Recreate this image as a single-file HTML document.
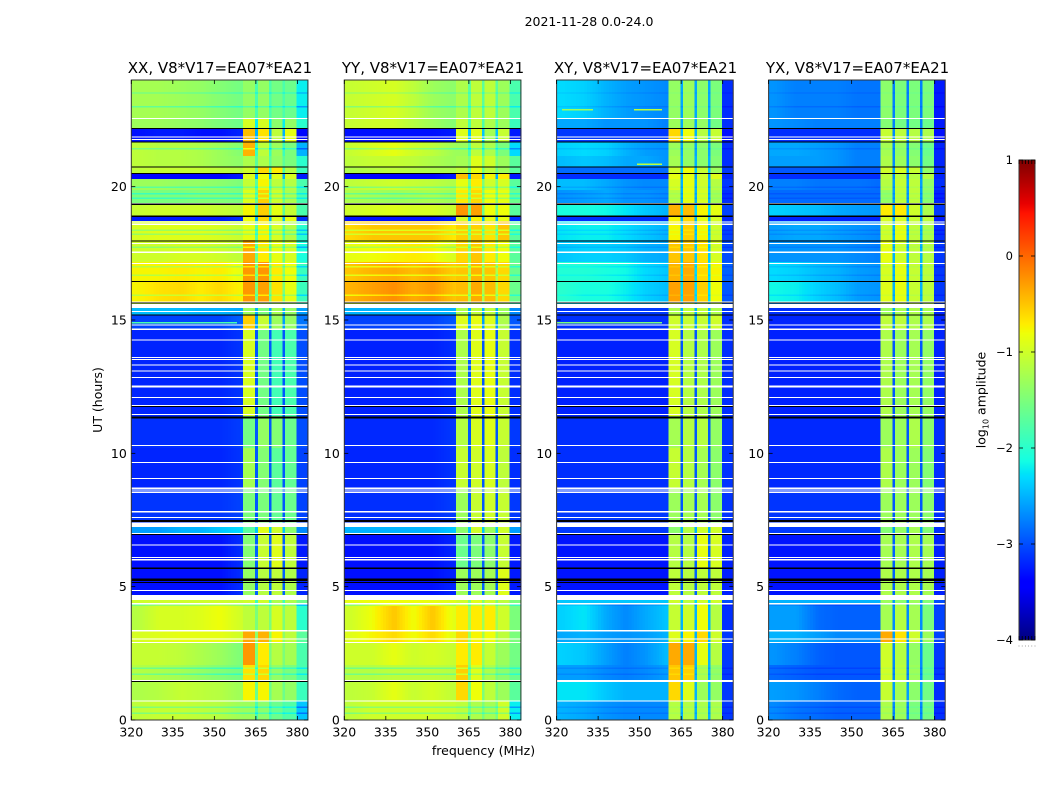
<!DOCTYPE html>
<html lang="en">
<head>
<meta charset="utf-8">
<title>2021-11-28 0.0-24.0</title>
<style>
html,body{margin:0;padding:0;background:#fff;}
svg{display:block;font-family:"DejaVu Sans","Liberation Sans",sans-serif;fill:#000;}
</style>
</head>
<body>
<svg id="figure" xmlns="http://www.w3.org/2000/svg" width="1050" height="800" viewBox="0 0 1050 800">
  <rect x="0" y="0" width="1050" height="800" fill="#fff"/>
  <text x="589" y="26" font-size="12.5" text-anchor="middle">2021-11-28 0.0-24.0</text>
  <text x="220" y="73" font-size="15" text-anchor="middle">XX, V8*V17=EA07*EA21</text>
  <text x="433" y="73" font-size="15" text-anchor="middle">YY, V8*V17=EA07*EA21</text>
  <text x="645.5" y="73" font-size="15" text-anchor="middle">XY, V8*V17=EA07*EA21</text>
  <text x="857.5" y="73" font-size="15" text-anchor="middle">YX, V8*V17=EA07*EA21</text>
  <text transform="translate(102,400) rotate(-90)" font-size="12.5" text-anchor="middle">UT (hours)</text>
  <text x="483.5" y="755" font-size="12.5" text-anchor="middle">frequency (MHz)</text>
  <text transform="translate(985.5,400) rotate(-90)" font-size="12.5" text-anchor="middle">log<tspan font-size="8" dy="3">10</tspan><tspan dy="-3"> amplitude</tspan></text>
  <g id="panels"></g>
  <g id="colorbar"></g>
</svg>
<script>
// ---- data ----
const panelNames = ['xx', 'yy', 'xy', 'yx'];
const xTickLabels = [320, 335, 350, 365, 380];
const yTickLabels = [0, 5, 10, 15, 20];
const colorbarTickLabels = [-4, -3, -2, -1, 0, 1];
const colorbarXTicks = [0, 0.2, 0.4, 0.6, 0.8, 1];

// UT (hours) boundaries of the observing blocks, top to bottom
const utBandEdges = [24, 22.55, 22.18, 21.68, 21.15, 20.73, 20.5, 20.28, 19.88, 19.35, 18.88, 18.71, 18, 17.17, 16.46, 15.7, 15.45, 15.18, 14.65, 11.4, 10.2, 8.7, 7.5, 7.23, 6.96, 5.69, 4.69, 4.36, 3.38, 2.91, 2.06, 1.47, 0.71, 0];

// MHz sample points for the low part of the band, then the four sub-band windows
const lowKnotsMHz = [322, 330, 338, 345, 352, 360];
const lowBandEndMHz = 360.4;
const subBandsMHz = [[360.4, 364.7], [365.6, 369.8], [370.5, 374.7], [375.4, 379.7]];
const gapsMHz = [[364.7, 365.6], [369.8, 370.5], [374.7, 375.4]];
const tailMHz = [379.7, 383.8];

// log10 amplitude per UT block: six low knots, sub-bands A B C D, gap, tail
const logAmpXX = [
[-1.25,-1.25,-1.3,-1.35,-1.45,-1.55,-1.35,-1.35,-1.55,-1.6,-1.8,-2.2],
[-1.3,-1.3,-1.35,-1.4,-1.5,-1.6,-0.95,-0.95,-1.4,-1.35,-2.2,-2],
[-3.3,-3.25,-3.25,-3.3,-3.3,-3.2,-0.45,-0.65,-1.1,-0.85,-2.5,-3.35],
[-1.1,-1.15,-1.15,-1.2,-1.3,-1.45,-0.4,-1.1,-1.3,-1.5,-1.9,-2.5],
[-1.1,-1.15,-1.15,-1.2,-1.3,-1.4,-1.2,-1.2,-1.35,-1.5,-1.7,-2],
[-1.1,-1.05,-1.05,-1.05,-1.1,-1.15,-1,-0.6,-0.7,-1.15,-1.8,-1.9],
[-3.35,-3.35,-3.35,-3.35,-3.35,-3.25,-0.9,-0.8,-0.9,-0.95,-2.5,-3.25],
[-1.3,-1.3,-1.35,-1.35,-1.4,-1.5,-1.05,-0.75,-1.1,-1.15,-1.7,-1.8],
[-1.5,-1.5,-1.5,-1.45,-1.45,-1.5,-0.9,-0.55,-1,-1.2,-1.6,-1.8],
[-1.05,-1,-1,-1,-1.05,-1.1,-0.75,-0.55,-0.85,-1.05,-1.7,-1.8],
[-3.25,-3.25,-3.25,-3.25,-3.25,-3.15,-0.8,-0.6,-0.9,-0.85,-2.5,-3.15],
[-0.95,-0.9,-0.9,-0.9,-0.95,-1.05,-0.85,-0.75,-0.95,-1.15,-1.7,-2],
[-1,-1,-0.95,-0.95,-1,-1.1,-0.35,-0.7,-0.85,-0.95,-1.6,-2.1],
[-0.75,-0.75,-0.7,-0.75,-0.7,-0.85,-0.25,-0.25,-0.7,-0.8,-1.4,-1.9],
[-0.75,-0.65,-0.6,-0.7,-0.6,-0.75,-0.25,-0.3,-0.65,-0.85,-1.5,-1.9],
[-1.1,-1.1,-1.1,-1.1,-1.15,-1.2,-1.1,-1.1,-1.2,-1.3,-1.8,-2],
[-2.45,-2.45,-2.45,-2.5,-2.5,-2.55,-1.3,-1.5,-1.25,-1.35,-2.5,-2.6],
[-3.05,-3.05,-3.05,-3.05,-3.05,-2.9,-0.55,-1.05,-1.3,-1.35,-2.6,-2.8],
[-3.2,-3.2,-3.2,-3.2,-3.2,-3.12,-0.95,-1.55,-1.85,-1.8,-2.95,-3],
[-3.15,-3.15,-3.15,-3.15,-3.15,-3.08,-1.55,-1.35,-1.45,-1.6,-2.95,-3],
[-3.2,-3.2,-3.2,-3.2,-3.2,-3.12,-1.25,-1.45,-1.7,-1.65,-2.95,-3.05],
[-3.12,-3.12,-3.12,-3.12,-3.12,-3.05,-1.5,-1.5,-1.65,-1.6,-2.95,-3.05],
[-3.12,-3.12,-3.12,-3.12,-3.12,-3.05,-1.5,-1.5,-1.65,-1.6,-2.95,-3.05],
[-2.6,-2.6,-2.5,-2.5,-2.4,-2.3,-1.7,-0.9,-1,-1.4,-2.4,-2.7],
[-3.3,-3.3,-3.3,-3.3,-3.3,-3.15,-1.45,-1.05,-0.9,-1.1,-2.9,-3.25],
[-3.3,-3.3,-3.3,-3.3,-3.3,-3.15,-1.35,-1.15,-1.1,-1.2,-2.9,-3.2],
[-1,-1,-1,-1,-1,-1.05,-1,-1,-1.2,-1.2,-1.9,-1.6],
[-1.15,-0.95,-0.95,-0.9,-0.8,-1,-1.1,-1.1,-0.95,-1.1,-1.5,-2],
[-0.95,-0.9,-0.85,-0.85,-0.85,-1,-0.35,-0.4,-0.75,-1.1,-1.4,-1.7],
[-1.05,-1.05,-1.1,-1.2,-1.3,-1.5,-0.25,-0.7,-1.15,-1.25,-1.5,-1.8],
[-1.15,-1.2,-1.25,-1.35,-1.45,-1.55,-0.65,-0.6,-1.35,-1.5,-1.6,-1.8],
[-1.2,-1.15,-1.05,-1.1,-1.15,-1.3,-0.75,-0.75,-1.25,-1.35,-1.6,-1.9],
[-1.1,-1.05,-1.05,-1.1,-1.15,-1.3,-1.3,-1.4,-1.6,-1.75,-1.8,-2.4]
];
const logAmpYY = [
[-1.05,-1,-0.95,-1.1,-1.3,-1.4,-1.2,-1.1,-1.1,-1.3,-1.7,-1.8],
[-1.05,-1,-1,-1.15,-1.3,-1.45,-1.1,-1.1,-1.2,-1.3,-1.8,-1.9],
[-3.3,-3.3,-3.3,-3.3,-3.3,-3.25,-0.9,-0.9,-1.25,-1.05,-2.4,-3.25],
[-1.05,-0.95,-0.85,-1,-1.1,-1.3,-1.3,-1.1,-1.2,-1.5,-1.8,-2.3],
[-1.1,-1.05,-1.05,-1.1,-1.2,-1.3,-1.25,-0.9,-1,-1.3,-1.5,-1.7],
[-1.2,-1.15,-1.1,-1.15,-1.2,-1.2,-1.1,-0.85,-1.1,-1.3,-1.6,-1.7],
[-3.35,-3.35,-3.35,-3.35,-3.35,-3.25,-0.45,-0.6,-0.75,-0.7,-2.5,-3.25],
[-1.1,-1.05,-1,-1.05,-1.1,-1.2,-0.85,-0.7,-1,-0.95,-1.5,-1.7],
[-1.2,-1.25,-1.3,-1.25,-1.2,-1.3,-0.7,-0.6,-0.8,-0.85,-1.4,-1.6],
[-1,-0.95,-0.9,-0.95,-0.95,-1.05,-0.25,-0.3,-0.8,-0.8,-1.6,-1.7],
[-3.3,-3.3,-3.3,-3.3,-3.3,-3.2,-0.95,-0.75,-0.85,-0.85,-2.5,-3.15],
[-0.6,-0.5,-0.5,-0.5,-0.5,-0.7,-0.55,-0.55,-0.65,-0.5,-1.4,-1.7],
[-0.85,-0.8,-0.75,-0.7,-0.75,-0.95,-0.6,-0.5,-0.7,-0.8,-1.4,-1.7],
[-0.5,-0.4,-0.35,-0.45,-0.35,-0.55,-0.5,-0.4,-0.5,-0.6,-1.2,-1.6],
[-0.4,-0.3,-0.2,-0.35,-0.25,-0.5,-0.45,-0.35,-0.45,-0.6,-1.2,-1.6],
[-1,-1,-1,-1,-1,-1.1,-1,-1,-1.1,-1.2,-1.7,-1.9],
[-2.5,-2.5,-2.5,-2.5,-2.5,-2.5,-1.2,-1.1,-1.1,-1.3,-2.5,-2.7],
[-3.05,-3.05,-3.05,-3.05,-3.05,-2.95,-0.9,-0.85,-0.9,-1.2,-2.6,-2.95],
[-3.22,-3.22,-3.22,-3.22,-3.22,-3.15,-1.2,-0.9,-0.85,-1.05,-2.95,-3.15],
[-3.18,-3.18,-3.18,-3.18,-3.18,-3.1,-1.15,-0.95,-0.9,-1.05,-2.95,-3.1],
[-3.2,-3.2,-3.2,-3.2,-3.2,-3.12,-1.05,-1,-0.95,-1.1,-2.95,-3.15],
[-3.15,-3.15,-3.15,-3.15,-3.15,-3.08,-1.3,-1.05,-1,-1.05,-2.95,-3.1],
[-3.15,-3.15,-3.15,-3.15,-3.15,-3.08,-1.3,-1.05,-1,-1.05,-2.95,-3.1],
[-2.5,-2.5,-2.5,-2.5,-2.5,-2.4,-1.4,-1,-1.3,-1,-2.4,-2.6],
[-3.3,-3.3,-3.3,-3.3,-3.3,-3.2,-1.6,-1.5,-1.4,-1.05,-2.9,-3.25],
[-3.3,-3.3,-3.3,-3.3,-3.3,-3.2,-1.3,-1.3,-1.25,-0.9,-2.9,-3.25],
[-0.85,-0.8,-0.8,-0.8,-0.85,-0.9,-1,-0.9,-1,-1.1,-1.5,-1.5],
[-1,-0.8,-0.5,-0.8,-0.5,-0.9,-0.7,-0.7,-0.7,-1,-1.3,-1.5],
[-0.9,-0.75,-0.6,-0.8,-0.6,-0.9,-0.6,-0.75,-0.8,-1.1,-1.3,-1.5],
[-1,-1,-0.85,-1,-0.95,-1.05,-0.7,-0.7,-1.05,-1.3,-1.4,-1.55],
[-1.15,-1.15,-1.1,-1.1,-1.1,-1.15,-0.55,-0.9,-1.2,-1.4,-1.5,-1.6],
[-1.1,-1.05,-0.85,-1.05,-0.95,-1.1,-0.6,-0.8,-1.1,-1.3,-1.5,-1.7],
[-1.1,-1,-1,-1,-1,-1.05,-1.1,-1.2,-1.25,-1,-1.5,-2.2]
];
const logAmpXY = [
[-2.3,-2.35,-2.5,-2.6,-2.65,-2.7,-1.35,-1.3,-1.4,-1.5,-2.55,-3.15],
[-2.55,-2.55,-2.65,-2.65,-2.65,-2.75,-1.3,-1.3,-1.35,-1.55,-2.55,-3.15],
[-3.1,-3.1,-3.1,-3.1,-3.1,-3.1,-0.6,-0.8,-1.15,-1.05,-2.5,-3.3],
[-2.35,-2.3,-2.35,-2.5,-2.6,-2.65,-1.3,-1.35,-1.4,-1.5,-2.55,-3.15],
[-2.45,-2.4,-2.45,-2.55,-2.55,-2.65,-1.25,-1.35,-1.4,-1.45,-2.5,-3.15],
[-2.85,-2.85,-2.85,-2.85,-2.85,-2.85,-1,-0.8,-1.05,-1.3,-2.4,-3.1],
[-3.15,-3.15,-3.15,-3.15,-3.15,-3.15,-0.85,-0.85,-1,-0.9,-2.6,-3.2],
[-2.45,-2.45,-2.55,-2.65,-2.7,-2.7,-0.95,-0.85,-1,-1.15,-2.5,-3.1],
[-2.65,-2.6,-2.55,-2.65,-2.65,-2.7,-1.15,-0.85,-0.95,-1.25,-2.5,-3.15],
[-2.1,-2.1,-2.15,-2.25,-2.4,-2.5,-0.4,-0.45,-0.75,-0.85,-2.3,-3.05],
[-3.15,-3.15,-3.15,-3.15,-3.15,-3.15,-0.75,-0.6,-0.85,-0.95,-2.5,-3.2],
[-2.25,-2.2,-2.2,-2.3,-2.4,-2.5,-0.75,-0.55,-0.75,-1,-2.4,-3.05],
[-2.4,-2.35,-2.35,-2.4,-2.5,-2.55,-0.5,-0.5,-0.65,-0.95,-2.4,-3],
[-2.05,-2.05,-2.1,-2.15,-2.3,-2.4,-0.4,-0.35,-0.6,-0.75,-2.3,-2.9],
[-2,-2.1,-2.1,-2.2,-2.35,-2.45,-0.3,-0.3,-0.55,-0.8,-2.3,-2.95],
[-2.25,-2.25,-2.25,-2.35,-2.45,-2.45,-0.9,-0.9,-1,-1.1,-2.4,-3],
[-3.1,-3.1,-3.1,-3.1,-3.1,-3.1,-1.2,-1.1,-1.1,-1.2,-2.5,-3.1],
[-3.15,-3.15,-3.15,-3.15,-3.15,-3.15,-1,-1.05,-1.05,-1,-2.6,-3.15],
[-3.22,-3.22,-3.22,-3.22,-3.22,-3.22,-0.95,-1.15,-1.2,-1.3,-2.95,-3.15],
[-3.15,-3.15,-3.15,-3.15,-3.15,-3.15,-1.25,-1.15,-1.15,-1.35,-2.95,-3.12],
[-3.15,-3.15,-3.15,-3.15,-3.15,-3.15,-1.05,-1.15,-1.25,-1.4,-2.95,-3.12],
[-3.1,-3.1,-3.1,-3.1,-3.1,-3.1,-1.3,-1.25,-1.25,-1.4,-2.95,-3.12],
[-3.1,-3.1,-3.1,-3.1,-3.1,-3.1,-1.3,-1.25,-1.25,-1.4,-2.95,-3.12],
[-3.1,-3.1,-3.1,-3.1,-3.1,-3.1,-1.4,-1.15,-1,-1,-2.5,-3.1],
[-3.28,-3.28,-3.28,-3.28,-3.28,-3.28,-1.15,-1.15,-0.85,-0.95,-2.9,-3.22],
[-3.28,-3.28,-3.28,-3.28,-3.28,-3.28,-1.1,-1.15,-1.1,-1.1,-2.9,-3.22],
[-2.4,-2.4,-2.4,-2.4,-2.4,-2.4,-1,-1.1,-1,-1,-2.3,-3],
[-2.35,-2.25,-2.55,-2.7,-2.55,-2.4,-1.05,-1,-0.8,-1.15,-2.5,-3.15],
[-2.55,-2.5,-2.6,-2.65,-2.6,-2.5,-0.9,-0.75,-0.6,-1,-2.5,-3.1],
[-2.35,-2.4,-2.6,-2.75,-2.65,-2.45,-0.35,-0.35,-0.85,-1.15,-2.5,-3.1],
[-2.6,-2.6,-2.7,-2.75,-2.7,-2.6,-0.5,-0.55,-1.2,-1.35,-2.5,-3.1],
[-2.25,-2.25,-2.4,-2.5,-2.5,-2.5,-0.6,-0.9,-1.3,-1.35,-2.5,-3.1],
[-2.5,-2.55,-2.65,-2.7,-2.7,-2.7,-1.15,-1.15,-1.2,-1.2,-2.5,-3.1]
];
const logAmpYX = [
[-2.65,-2.75,-2.75,-2.75,-2.8,-2.8,-1.4,-1.5,-1.5,-1.5,-2.75,-3.25],
[-2.65,-2.7,-2.75,-2.75,-2.75,-2.75,-1.45,-1.55,-1.55,-1.6,-2.75,-3.25],
[-3.15,-3.15,-3.15,-3.15,-3.15,-3.15,-1.05,-1.1,-1.15,-1.2,-2.7,-3.3],
[-2.55,-2.55,-2.6,-2.65,-2.75,-2.75,-1.25,-1.35,-1.45,-1.6,-2.7,-3.2],
[-2.6,-2.6,-2.6,-2.65,-2.75,-2.75,-1.2,-1.3,-1.4,-1.55,-2.7,-3.2],
[-2.95,-2.95,-2.95,-2.95,-2.95,-2.95,-1,-0.95,-1.05,-1.35,-2.6,-3.15],
[-3.15,-3.15,-3.15,-3.15,-3.15,-3.15,-1.1,-1.1,-1.15,-1.15,-2.7,-3.2],
[-2.75,-2.75,-2.8,-2.8,-2.8,-2.85,-1.15,-1.05,-1.1,-1.35,-2.6,-3.15],
[-2.85,-2.85,-2.85,-2.85,-2.85,-2.85,-1.35,-1.1,-1.1,-1.4,-2.6,-3.2],
[-2.35,-2.4,-2.45,-2.55,-2.6,-2.65,-0.7,-0.7,-1,-1.2,-2.5,-3.1],
[-3.2,-3.2,-3.2,-3.2,-3.2,-3.2,-0.95,-0.95,-1.05,-1.1,-2.6,-3.25],
[-2.6,-2.55,-2.55,-2.6,-2.65,-2.7,-1,-0.85,-1.1,-1.2,-2.5,-3.15],
[-2.65,-2.65,-2.65,-2.65,-2.7,-2.75,-0.85,-1,-1.1,-1.15,-2.5,-3.1],
[-2.3,-2.35,-2.45,-2.5,-2.6,-2.65,-0.95,-0.85,-1.05,-1.1,-2.5,-3.1],
[-2.15,-2.2,-2.35,-2.45,-2.6,-2.65,-0.9,-0.85,-1.05,-1.1,-2.5,-3.1],
[-2.65,-2.65,-2.65,-2.65,-2.75,-2.75,-1.1,-1.1,-1.1,-1.2,-2.6,-3.1],
[-3.15,-3.15,-3.15,-3.15,-3.15,-3.15,-1.3,-1.25,-1.2,-1.25,-2.6,-3.2],
[-3.2,-3.2,-3.2,-3.2,-3.2,-3.2,-1.1,-1.1,-1.2,-1.2,-2.7,-3.2],
[-3.22,-3.22,-3.22,-3.22,-3.22,-3.22,-1.2,-1.3,-1.25,-1.35,-2.95,-3.2],
[-3.18,-3.18,-3.18,-3.18,-3.18,-3.18,-1.3,-1.3,-1.2,-1.4,-2.95,-3.15],
[-3.18,-3.18,-3.18,-3.18,-3.18,-3.18,-1.2,-1.3,-1.3,-1.45,-2.95,-3.15],
[-3.12,-3.12,-3.12,-3.12,-3.12,-3.12,-1.3,-1.3,-1.3,-1.4,-2.95,-3.15],
[-3.12,-3.12,-3.12,-3.12,-3.12,-3.12,-1.3,-1.3,-1.3,-1.4,-2.95,-3.15],
[-3.1,-3.1,-3.1,-3.1,-3.1,-3.1,-1.45,-1.35,-1.25,-1.45,-2.6,-3.15],
[-3.28,-3.28,-3.28,-3.28,-3.28,-3.28,-1.25,-1.25,-1.2,-1.25,-2.9,-3.22],
[-3.28,-3.28,-3.28,-3.28,-3.28,-3.28,-1.2,-1.2,-1.2,-1.25,-2.9,-3.22],
[-2.5,-2.5,-2.5,-2.5,-2.5,-2.5,-1.3,-1.4,-1.3,-1.45,-2.6,-3],
[-2.6,-2.6,-2.85,-2.9,-2.9,-2.9,-1.25,-1.15,-1.25,-1.5,-2.7,-3.05],
[-2.5,-2.5,-2.6,-2.7,-2.7,-2.7,-0.35,-0.65,-1,-1.3,-2.6,-3.05],
[-2.65,-2.75,-2.9,-2.95,-2.95,-2.95,-1,-1.15,-1.35,-1.6,-2.7,-3.1],
[-2.85,-2.9,-2.95,-2.95,-2.95,-2.95,-1,-1.1,-1.3,-1.6,-2.7,-3.1],
[-2.6,-2.65,-2.75,-2.85,-2.9,-2.9,-1.05,-1.25,-1.4,-1.55,-2.6,-3.15],
[-2.7,-2.8,-2.85,-2.9,-2.9,-2.9,-1.2,-1.3,-1.5,-1.55,-2.7,-3.15]
];

// flagged (empty) integrations, UT start/end, shown white
const flaggedUT = [[22.53,22.58],[21.85,21.89],[21.75,21.79],[19.34,19.39],[18.65,18.69],[18.57,18.61],[17.85,17.89],[17.52,17.56],[17.1,17.14],[15.66,15.7],[15.45,15.6],[15.3,15.34],[14.79,14.83],[14.62,14.68],[14.23,14.27],[13.58,13.62],[13.5,13.54],[13.29,13.33],[13.06,13.1],[12.83,12.87],[12.47,12.54],[12.08,12.12],[11.78,11.82],[11.44,11.48],[10.28,10.32],[9.64,9.68],[9.04,9.08],[8.67,8.71],[8.6,8.64],[8.52,8.56],[7.79,7.83],[7.57,7.61],[7.23,7.41],[6.97,7.01],[6.54,6.58],[6.07,6.11],[5.99,6.03],[4.83,4.87],[4.5,4.69],[4.34,4.38],[3.31,3.38],[3.01,3.05],[2.89,2.93],[1.45,1.5],[0.69,0.73]];
// zero-amplitude integrations, UT start/end, shown black
const blackUT = [[22.16,22.2],[21.66,21.7],[20.71,20.75],[20.48,20.52],[19.32,19.36],[18.87,18.91],[17.95,17.99],[16.43,16.47],[15.61,15.65],[15.16,15.2],[11.73,11.77],[11.31,11.39],[7.43,7.5],[6.94,6.98],[5.67,5.71],[5.27,5.31],[5.22,5.26],[5.14,5.18]];
// one integration just under the 1.5 h gap: zero in XX and YY, empty in XY and YX
const splitLineUT = [1.42, 1.46];
const splitLineBlackByPanel = [true, true, false, false];
// UT of thin low-amplitude integrations and how far each panel drops there
const dipUT = [23.52, 23, 21.43, 19.98, 19.75, 19.57, 18.37, 18.22, 17.74, 17, 16.69, 15.94, 4.31, 1.95, 1.72, 0.49, 0.26];
const dipDepthByPanel = [0.4, 0.4, 0.1, 0.1];
// interference streaks: panel index, UT, start MHz, end MHz, log10 amplitude
const rfiPanel = [0, 2, 2, 2, 2];
const rfiUT = [14.91, 14.91, 22.9, 22.9, 20.85];
const rfiStartMHz = [320, 320, 322, 348, 349];
const rfiEndMHz = [358, 358, 333, 358, 358];
const rfiLogAmp = [-1.8, -1.5, -1.3, -1.1, -1.1];

const matrices = [logAmpXX, logAmpYY, logAmpXY, logAmpYX];

// ---- layout and scales ----
const panelLeft = [131.3, 344.3, 556.6, 768.6];
const panelWidth = 176.6, plotTop = 80, plotBottom = 720;
const freqMin = 320, freqMax = 383.8, utMin = 0, utMax = 24;
const cbLeft = 1019, cbWidth = 16, cbTop = 160, cbBottom = 640, cbMin = -4, cbMax = 1;

function xScale(p, f) { return panelLeft[p] + (f - freqMin) / (freqMax - freqMin) * panelWidth; }
function yScale(t) { return plotBottom - (t - utMin) / (utMax - utMin) * (plotBottom - plotTop); }
function cbScale(v) { return cbBottom - (v - cbMin) / (cbMax - cbMin) * (cbBottom - cbTop); }

function ramp(points, t) {
  for (let i = 1; i < points.length; i++) {
    if (t <= points[i][0]) {
      const a = points[i - 1], b = points[i];
      return a[1] + (b[1] - a[1]) * (t - a[0]) / (b[0] - a[0]);
    }
  }
  return points[points.length - 1][1];
}
const jetR = [[0,0],[0.35,0],[0.66,1],[0.89,1],[1,0.5]];
const jetG = [[0,0],[0.125,0],[0.375,1],[0.64,1],[0.91,0],[1,0]];
const jetB = [[0,0.5],[0.11,1],[0.34,1],[0.65,0],[1,0]];
function jet(v) {
  const t = Math.max(0, Math.min(1, (v - cbMin) / (cbMax - cbMin)));
  return 'rgb(' + Math.round(255 * ramp(jetR, t)) + ',' + Math.round(255 * ramp(jetG, t)) + ',' + Math.round(255 * ramp(jetB, t)) + ')';
}
function lowValue(row, f) {
  if (f <= lowKnotsMHz[0]) return row[0];
  for (let i = 1; i < lowKnotsMHz.length; i++) {
    if (f <= lowKnotsMHz[i]) {
      const a = lowKnotsMHz[i - 1], b = lowKnotsMHz[i];
      return row[i - 1] + (row[i] - row[i - 1]) * (f - a) / (b - a);
    }
  }
  return row[lowKnotsMHz.length - 1];
}

const NS = 'http://www.w3.org/2000/svg';
function shape(parent, tag, attrs) {
  const el = document.createElementNS(NS, tag);
  for (const k in attrs) el.setAttribute(k, attrs[k]);
  parent.appendChild(el);
  return el;
}
function cell(g, p, f0, f1, t0, t1, v) {
  const x0 = xScale(p, f0), x1 = xScale(p, f1), y0 = yScale(t0), y1 = yScale(t1);
  const el = shape(g, 'rect', { x: x0.toFixed(2), y: y0.toFixed(2), width: (x1 - x0 + 0.4).toFixed(2), height: (y1 - y0 + 0.4).toFixed(2), fill: jet(v) });
  
  
}
function drawRow(g, p, row, tHigh, tLow, shift) {
  for (let f = freqMin; f < lowBandEndMHz; f += 1) {
    const f1 = Math.min(f + 1, lowBandEndMHz);
    cell(g, p, f, f1, tHigh, tLow, lowValue(row, (f + f1) / 2) + shift);
  }
  subBandsMHz.forEach(function (b, i) { cell(g, p, b[0], b[1], tHigh, tLow, row[6 + i] + shift); });
  gapsMHz.forEach(function (b) { cell(g, p, b[0], b[1], tHigh, tLow, row[10] + shift); });
  cell(g, p, tailMHz[0], tailMHz[1], tHigh, tLow, row[11] + shift);
}
function bandIndex(t) {
  for (let i = 0; i < utBandEdges.length - 1; i++) {
    if (t <= utBandEdges[i] && t >= utBandEdges[i + 1]) return i;
  }
  return 0;
}
function flagLine(g, p, pair, color, name) {
  const el = shape(g, 'rect', { x: panelLeft[p].toFixed(2), y: yScale(pair[1]).toFixed(2), width: panelWidth, height: (yScale(pair[0]) - yScale(pair[1])).toFixed(2), fill: color, 'shape-rendering': 'crispEdges' });
  
  
}

// ---- draw the panels ----
const panelsRoot = document.getElementById('panels');
panelNames.forEach(function (name, p) {
  const panel = shape(panelsRoot, 'g', {});
  
  

  const heat = shape(panel, 'g', { 'shape-rendering': 'crispEdges' });
  
  
  matrices[p].forEach(function (row, r) {
    drawRow(heat, p, row, utBandEdges[r], utBandEdges[r + 1], 0);
  });
  dipUT.forEach(function (t) {
    drawRow(heat, p, matrices[p][bandIndex(t)], t + 0.02, t - 0.02, -dipDepthByPanel[p]);
  });
  rfiPanel.forEach(function (owner, i) {
    if (owner === p) cell(heat, p, rfiStartMHz[i], rfiEndMHz[i], rfiUT[i] + 0.02, rfiUT[i] - 0.02, rfiLogAmp[i]);
  });
  flaggedUT.forEach(function (pair) { flagLine(panel, p, pair, '#fff', 'flagged-integration'); });
  blackUT.forEach(function (pair) { flagLine(panel, p, pair, '#000', 'zero-integration'); });
  flagLine(panel, p, splitLineUT, splitLineBlackByPanel[p] ? '#000' : '#fff', 'split-integration');

  const frame = shape(panel, 'rect', { x: panelLeft[p], y: plotTop, width: panelWidth, height: plotBottom - plotTop, fill: 'none', stroke: '#333', 'stroke-width': 1 });
  
  

  xTickLabels.forEach(function (v) {
    const x = xScale(p, v);
    const bottom = shape(panel, 'line', { x1: x, x2: x, y1: plotBottom, y2: plotBottom - 4, stroke: '#000', 'stroke-width': 0.8 });
    
    
    const top = shape(panel, 'line', { x1: x, x2: x, y1: plotTop, y2: plotTop + 4, stroke: '#000', 'stroke-width': 0.8 });
    
    
    const label = shape(panel, 'text', { x: x, y: 736.5, 'font-size': 12.5, 'text-anchor': 'middle' });
    label.textContent = String(v);
    
    
  });
  yTickLabels.forEach(function (v) {
    const y = yScale(v);
    const left = shape(panel, 'line', { x1: panelLeft[p], x2: panelLeft[p] + 4, y1: y, y2: y, stroke: '#000', 'stroke-width': 0.8 });
    
    
    const right = shape(panel, 'line', { x1: panelLeft[p] + panelWidth, x2: panelLeft[p] + panelWidth - 4, y1: y, y2: y, stroke: '#000', 'stroke-width': 0.8 });
    
    
    const label = shape(panel, 'text', { x: panelLeft[p] - 4.5, y: y + 4.5, 'font-size': 12.5, 'text-anchor': 'end' });
    label.textContent = String(v);
    
    
  });
});

// ---- draw the colour bar ----
const cbRoot = document.getElementById('colorbar');
const cbRamp = shape(cbRoot, 'g', { 'shape-rendering': 'crispEdges' });


for (let i = 0; i < 240; i++) {
  const v0 = cbMin + (cbMax - cbMin) * i / 240, v1 = cbMin + (cbMax - cbMin) * (i + 1) / 240;
  const seg = shape(cbRamp, 'rect', { x: cbLeft, y: cbScale(v1).toFixed(2), width: cbWidth, height: (cbScale(v0) - cbScale(v1) + 0.5).toFixed(2), fill: jet((v0 + v1) / 2) });
  
  
}
const cbFrame = shape(cbRoot, 'rect', { x: cbLeft, y: cbTop, width: cbWidth, height: cbBottom - cbTop, fill: 'none', stroke: '#333', 'stroke-width': 1 });


colorbarTickLabels.forEach(function (v) {
  const y = cbScale(v);
  const left = shape(cbRoot, 'line', { x1: cbLeft, x2: cbLeft + 4, y1: y, y2: y, stroke: '#000', 'stroke-width': 0.8 });
  
  
  const right = shape(cbRoot, 'line', { x1: cbLeft + cbWidth, x2: cbLeft + cbWidth - 4, y1: y, y2: y, stroke: '#000', 'stroke-width': 0.8 });
  
  
  const label = shape(cbRoot, 'text', { x: 1013, y: y + 4, 'font-size': 11.5, 'text-anchor': 'end' });
  label.textContent = v < 0 ? '\u2212' + Math.abs(v) : String(v);
  
  
});
colorbarXTicks.forEach(function (v) {
  const x = cbLeft + v * cbWidth;
  const top = shape(cbRoot, 'line', { x1: x, x2: x, y1: cbTop, y2: cbTop + 4, stroke: '#000', 'stroke-width': 0.8 });
  
  
  const bottom = shape(cbRoot, 'line', { x1: x, x2: x, y1: cbBottom, y2: cbBottom - 4, stroke: '#000', 'stroke-width': 0.8 });
  
  
  const dot = shape(cbRoot, 'circle', { cx: x, cy: 646, r: 0.45, fill: '#777' });
  
  
});
</script>
</body>
</html>
